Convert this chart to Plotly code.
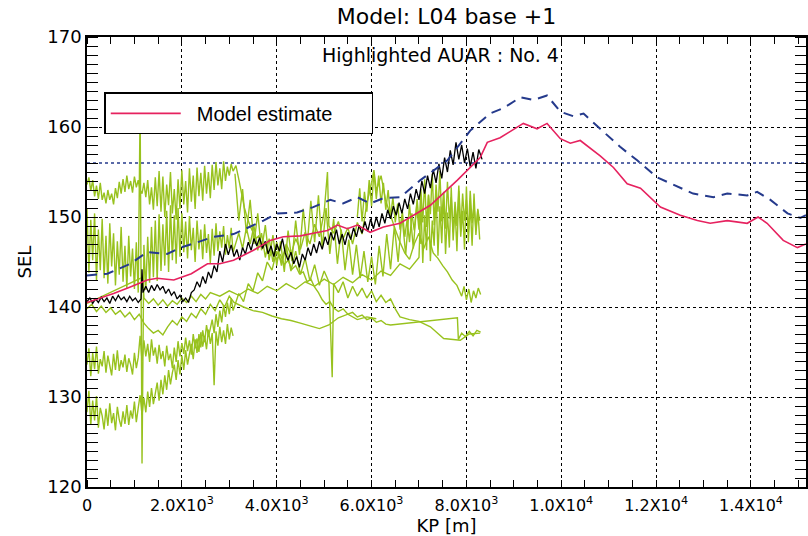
import plotly.graph_objects as go

# ---------------- data ----------------
X_TICK_VALS = [0, 2000, 4000, 6000, 8000, 10000, 12000, 14000]
X_TICK_TEXT = ["0", "2.0X10<sup>3</sup>", "4.0X10<sup>3</sup>", "6.0X10<sup>3</sup>",
               "8.0X10<sup>3</sup>", "1.0X10<sup>4</sup>", "1.2X10<sup>4</sup>", "1.4X10<sup>4</sup>"]
Y_TICK_VALS = [120, 130, 140, 150, 160, 170]
THRESHOLD = 156

RED_X = [0, 560, 900, 1270, 1480, 1830, 2200, 2390, 2540, 2800, 3090, 3510, 3860, 4140, 4500, 4770,
         5070, 5280, 5490, 5700, 5970, 6250, 6600, 7240, 7810, 8290, 8440, 8710, 9200, 9490, 9700,
         9980, 10190, 10400, 10820, 11100, 11390, 11670, 12090, 12510, 12870, 13140, 13500, 13920,
         14150, 14340, 14680, 14980, 15160]
RED_Y = [140.5, 141.5, 142.2, 143.0, 143.2, 143.0, 143.7, 144.3, 144.8, 144.8, 145.2, 146.3, 147.4,
         147.8, 147.9, 148.2, 148.5, 149.1, 148.7, 149.1, 148.3, 148.9, 149.3, 151.3, 154.1, 156.6,
         158.3, 158.8, 160.4, 159.8, 160.4, 158.7, 158.2, 158.5, 156.8, 155.5, 153.7, 153.2, 151.1,
         150.2, 149.6, 149.3, 149.6, 149.3, 150.0, 149.3, 147.4, 146.6, 147.0]

BLUE_X = [0, 430, 910, 1270, 1690, 1970, 2330, 2670, 3090, 3445, 3720, 4010, 4430, 4770, 5130, 5400,
          5700, 5970, 6250, 6606, 7030, 7600, 8080, 8500, 8780, 9140, 9410, 9700, 9980, 10250, 10470,
          10820, 11240, 11600, 12020, 12360, 12780, 13210, 13500, 13920, 14130, 14410, 14770, 15040, 15160]
BLUE_Y = [143.5, 143.7, 144.8, 146.1, 145.9, 146.6, 147.2, 147.8, 148.1, 148.9, 149.6, 150.4, 150.5,
          151.1, 151.9, 151.5, 152.2, 151.5, 152.1, 152.2, 154.1, 156.3, 159.6, 161.5, 162.1, 163.3,
          163.0, 163.5, 161.7, 161.2, 161.5, 159.8, 157.8, 156.3, 154.4, 153.6, 152.6, 152.2, 152.6,
          152.4, 152.8, 151.9, 150.4, 149.9, 150.2]

BLACK_X = [0, 60, 120, 180, 240, 300, 360, 420, 480, 540, 600, 660, 720, 780, 840, 900, 960, 1020,
           1080, 1140, 1160, 1180, 1240, 1300, 1360, 1420, 1480, 1540, 1600, 1660, 1720, 1780, 1840,
           1900, 1960, 2020, 2080, 2140, 2200, 2260, 2320, 2380, 2440, 2500, 2560, 2620, 2680, 2740,
           2800, 2860, 2920, 2980, 3040, 3100, 3160, 3220, 3280, 3340, 3400, 3460, 3520, 3580, 3640,
           3700, 3760, 3820, 3880, 3940, 4000, 4060, 4120, 4180, 4240, 4300, 4360, 4420, 4480, 4540,
           4600, 4660, 4720, 4780, 4840, 4900, 4960, 5020, 5080, 5140, 5200, 5260, 5320, 5380, 5440,
           5500, 5560, 5620, 5680, 5740, 5800, 5860, 5920, 5980, 6040, 6100, 6160, 6220, 6280, 6340,
           6400, 6460, 6520, 6580, 6640, 6700, 6760, 6820, 6880, 6940, 7000, 7060, 7120, 7180, 7240,
           7300, 7360, 7420, 7480, 7540, 7600, 7660, 7720, 7780, 7840, 7900, 7960, 8020, 8080, 8140,
           8200, 8260, 8330]
BLACK_Y = [140.6, 141.0, 140.4, 140.9, 140.5, 141.1, 140.6, 141.0, 140.4, 141.2, 140.7, 141.3, 140.8,
           141.1, 140.6, 141.2, 140.7, 141.0, 140.5, 140.9, 144.2,
           141.6, 142.3, 141.6, 142.4, 141.8, 142.5, 141.9, 142.3, 141.5, 142.0,
           141.3, 141.7, 140.9, 141.3, 140.6, 141.0, 140.5, 141.6, 141.9, 142.8,
           142.2, 143.4, 142.6, 143.9, 143.2, 144.6, 143.9, 146.2, 145.0, 147.0,
           145.8, 146.9, 145.6, 146.4, 145.2, 146.6, 145.9, 147.2, 146.3, 147.6,
           146.8, 147.7, 146.5, 147.3, 145.9, 146.8, 145.6, 147.0, 146.2, 147.6,
           146.0, 145.2, 146.1, 144.8, 145.6, 144.4, 145.9, 145.2, 146.6, 145.7,
           147.0, 146.0, 147.3, 146.4, 147.8, 146.9, 148.3, 147.4, 148.6, 147.0,
           148.1, 146.9, 148.3, 147.5, 148.8, 147.8, 149.1, 148.2, 149.5, 148.4,
           149.8, 148.7, 150.0, 148.9, 150.4, 149.3, 150.8, 149.8, 151.2, 150.2,
           151.6, 150.4, 152.0, 150.9, 152.6, 151.4, 153.1, 151.9, 154.0, 152.6,
           154.6, 153.2, 155.3, 153.8, 155.9, 154.3, 156.6, 155.0, 157.4, 155.8,
           158.3, 156.4, 158.0, 156.0, 157.6, 155.6, 157.2, 155.4, 157.5, 156.4]

# shared KP sampling grids of the measured (green) records
KP_GRID_L = [0, 40, 80, 120, 160, 200, 240, 280, 320, 360,
             400, 440, 480, 520, 560, 600, 640, 680, 720, 760,
             800, 840, 880, 920, 960, 1000, 1040, 1080, 1120, 1160,
             1200, 1240, 1280, 1320, 1360, 1400, 1440, 1480, 1520, 1560,
             1600, 1640, 1680, 1720, 1760, 1800, 1840, 1880, 1920, 1960,
             2000, 2040, 2080, 2120, 2160, 2200, 2240, 2280, 2320, 2360,
             2400, 2440, 2480, 2520, 2560, 2600, 2640, 2680, 2720, 2760,
             2800, 2840, 2880, 2920, 2960, 3000, 3040, 3080]
KP_GRID_M = [3120, 3200, 3280, 3360, 3440, 3520, 3600, 3680, 3760, 3840,
             3920, 4000, 4080, 4160, 4240, 4320, 4400, 4480, 4560, 4640,
             4720, 4800, 4880, 4960, 5040, 5120, 5200, 5280, 5360, 5440,
             5520, 5600, 5680, 5760, 5840, 5920, 6000, 6080, 6160, 6240,
             6320, 6400, 6480, 6560, 6640, 6720, 6800, 6880, 6960, 7040]
KP_GRID_R = [7000, 7040, 7080, 7120, 7160, 7200, 7240, 7280, 7320, 7360, 7400, 7440, 7480, 7520,
             7560, 7600, 7640, 7680, 7720, 7760, 7800, 7840, 7880, 7920, 7960, 8000, 8040, 8080,
             8120, 8160, 8200, 8240, 8280]

GA_L = [153.6, 154.4, 152.9, 154.1, 152.3, 153.5, 152.0, 153.8, 151.9, 152.7,
        151.5, 153.0, 151.9, 152.6, 151.4, 153.2, 152.1, 153.9, 152.6, 154.2,
        152.8, 154.6, 153.1, 154.0, 152.7, 154.5, 153.3, 154.1, 153.0, 152.6,
        153.8, 152.2, 154.1, 151.4, 153.3, 150.8, 154.4, 151.2, 155.1, 150.6,
        154.5, 150.0, 153.6, 151.3, 155.0, 150.4, 153.1, 149.7, 154.2, 150.9,
        155.2, 151.4, 154.0, 150.5, 155.4, 151.7, 154.6, 150.9, 155.5, 152.3,
        154.9, 151.8, 155.7, 152.6, 155.0, 152.1, 155.8, 153.0, 156.1, 153.5,
        155.4, 153.1, 156.2, 154.0, 155.6, 154.6, 155.9, 155.1]
GA_TAIL_X = [3140, 3200, 3260, 3320, 3380, 3440, 3500, 3560, 3620, 3700, 3760, 3840, 3920, 4000,
             4080, 4160, 4240, 4320, 4400, 4480, 4560, 4640, 4720, 4800, 4880, 4960, 5040, 5120,
             5200, 5300, 5400, 5500, 5600, 5700, 5800, 5900, 6000, 6100, 6200, 6300, 6400, 7810,
             7830, 7900, 7980, 8060, 8140, 8220, 8300]
GA_TAIL_Y = [155.7, 154.2, 152.6, 151.0, 149.9, 149.0, 148.3, 147.6, 147.9, 146.6, 147.1, 145.6,
             146.1, 145.3, 145.8, 144.7, 145.2, 144.2, 144.6, 143.7, 143.9, 142.8, 143.1, 142.2,
             141.6, 140.8, 140.3, 140.6, 139.9, 139.5, 139.8, 139.2, 139.4, 138.9, 139.1, 138.6,
             138.8, 138.3, 138.5, 138.1, 138.0, 138.8, 136.4, 137.1, 136.7, 137.3, 136.8, 137.4,
             137.2]

GB_L = [150.9, 143.8, 149.7, 145.2, 150.4, 142.9, 148.6, 144.1, 149.8, 143.2,
        147.9, 142.6, 149.3, 144.5, 148.2, 142.4, 147.3, 143.6, 148.9, 142.8,
        146.8, 142.1, 147.9, 143.4, 146.5, 142.0, 147.2, 141.6, 162.4, 122.6,
        146.9, 141.9, 147.8, 142.7, 148.9, 143.3, 149.6, 142.9, 150.3, 144.0,
        149.2, 144.6, 150.7, 143.9, 151.3, 145.2, 150.2, 144.8, 151.0, 145.6,
        150.4, 146.1, 149.5, 145.4, 150.1, 146.3, 148.8, 145.0, 149.6, 146.4,
        148.6, 145.3, 149.2, 146.0, 148.1, 144.9, 148.7, 145.7, 149.3, 146.2,
        148.4, 146.6, 149.0, 145.8, 148.0, 146.5, 148.8, 146.1]
GB_TAIL_X = [3200, 3280, 3360, 3440, 3520, 3600, 3680, 3760, 3840, 3920, 4000, 4100, 4200, 4300,
             4400, 4500, 4600, 4700, 4800, 4900, 5000, 5100, 5170, 5200, 5300, 5400, 5500, 5600,
             5700, 5800, 5900, 6000, 6100, 6200, 6300, 6400, 6500, 6600, 6800, 7000, 7240, 7520,
             7870, 8060, 8290]
GB_TAIL_Y = [148.2, 146.5, 148.8, 147.0, 149.0, 146.3, 148.2, 145.5, 147.6, 145.0, 147.2, 144.6,
             146.8, 144.0, 146.2, 143.6, 145.4, 142.9, 144.7, 142.4, 144.0, 142.8, 132.2, 142.6,
             141.6, 142.8, 141.0, 142.3, 141.2, 142.1, 141.0, 141.8, 140.6, 141.3, 140.5, 140.9,
             139.8, 138.9, 138.6, 138.4, 137.8, 136.5, 136.3, 137.0, 137.1]

GD_L = [133.6, 135.4, 132.3, 134.9, 133.1, 135.6, 132.6, 134.2, 133.4, 135.1,
        132.7, 134.6, 133.5, 132.4, 134.8, 133.0, 135.2, 132.9, 134.1, 133.3,
        134.7, 132.8, 134.3, 133.6, 132.5, 134.9, 133.2, 134.4, 136.8, 134.0,
        136.3, 134.5, 135.9, 133.9, 136.4, 134.6, 135.5, 133.7, 135.8, 134.2,
        135.1, 133.4, 135.7, 134.1, 134.8, 133.2, 135.5, 133.9, 136.2, 134.5,
        136.0, 134.8, 136.6, 135.1, 136.3, 134.7, 137.0, 135.4, 136.5, 135.0,
        137.2, 135.6, 136.8, 135.3, 137.5, 135.9, 137.1, 131.3, 137.3, 135.7,
        137.8, 136.1, 137.4, 135.9, 138.1, 136.4, 137.7, 136.8]

GE_L = [128.3, 130.7, 126.9, 129.6, 127.4, 130.1, 126.6, 128.8, 127.9, 126.4,
        128.7, 126.8, 129.3, 127.1, 128.2, 126.3, 128.9, 127.5, 126.7, 128.4,
        127.0, 129.1, 126.9, 128.5, 127.6, 129.5, 127.2, 128.8, 130.2, 128.0,
        129.9, 128.3, 130.6, 128.9, 131.0, 129.2, 130.4, 131.6, 129.6, 131.9,
        130.3, 132.4, 130.8, 133.0, 131.4, 132.7, 133.6, 131.9, 134.1, 132.5,
        134.6, 133.0, 135.2, 133.6, 134.8, 135.9, 134.2, 136.4, 134.9, 137.0,
        135.5, 137.4, 136.1, 138.0, 136.7, 137.6, 138.6, 137.1, 139.2, 137.8,
        139.6, 138.3, 140.2, 138.9, 140.5, 139.2, 141.0, 139.6]
GE_TAIL_X = [3200, 3300, 3400, 3500, 3600, 3700, 3800, 3900, 4000, 4100, 4200, 4300, 4400, 4500,
             4600, 4700, 4800, 4900, 5000, 5070, 5100, 5200, 5300, 5400, 5500, 5600, 5700, 5800,
             5900, 6000, 6050, 6100, 6200, 6300, 6400, 6500, 6600, 6700, 6800, 6900, 7000, 7100,
             7200, 7300, 7400, 7500, 7600, 7700, 7800, 7900, 7950, 8000, 8050, 8100, 8150, 8200,
             8250, 8300]
GE_TAIL_Y = [141.5, 140.6, 142.6, 141.8, 143.8, 142.9, 145.0, 144.1, 146.2, 145.0, 147.0, 145.8,
             147.6, 146.4, 148.3, 147.0, 149.2, 147.8, 150.5, 155.0, 149.0, 148.2, 149.5, 147.6,
             148.8, 147.0, 149.4, 148.1, 151.5, 153.8, 155.2, 152.9, 154.6, 151.8, 150.2, 148.6,
             147.2, 146.0, 145.3, 147.0, 148.2, 146.5, 147.8, 146.0, 145.4, 144.6, 143.9, 143.0,
             142.4, 141.2, 142.3, 140.8, 142.0, 140.5, 141.8, 141.0, 142.1, 141.4]

GC_HEAD_X = [0, 1170, 1200, 1300, 1400, 1500, 1600, 1700, 1800, 1900, 2000, 2100, 2200, 2300, 2400,
             2500, 2600, 2800, 3000, 3200, 3400, 3600, 3800, 4000, 4200, 4400, 4600, 4800, 5000,
             5200, 5400, 5600, 5800, 6000, 6200, 6400, 6600, 6800]
GC_HEAD_Y = [140.4, 143.3, 141.0, 140.4, 140.9, 140.2, 140.8, 140.1, 140.7, 140.3, 141.0, 140.5,
             141.2, 140.6, 141.4, 140.9, 141.6, 141.2, 141.8, 141.3, 142.0, 141.5, 142.3, 141.8,
             142.6, 142.0, 142.8, 142.3, 143.1, 142.5, 143.3, 142.7, 143.6, 143.0, 144.0, 143.5,
             144.8, 144.2]
GC_R = [145.5, 151.6, 144.9, 150.2, 146.3, 152.4, 145.1, 149.6, 146.8, 153.0, 145.7, 151.2, 147.1,
        152.7, 145.9, 150.5, 146.6, 153.3, 147.4, 151.0, 146.2, 152.9, 147.8, 150.7, 146.4, 153.4,
        147.2, 151.5, 146.8, 152.6, 148.0, 150.9, 147.5]

GF_HEAD_X = [5700, 5750, 5800, 5850, 5900, 5950, 6000, 6050, 6100, 6150, 6200, 6250, 6300, 6350,
             6400, 6450, 6500, 6550, 6600, 6650, 6700, 6750, 6800, 6850, 6900, 6950]
GF_HEAD_Y = [150.0, 153.2, 149.5, 152.8, 150.6, 154.1, 151.2, 155.0, 152.0, 154.6, 151.5, 153.8,
             150.8, 153.0, 150.0, 152.2, 149.4, 151.5, 148.6, 150.6, 147.8, 149.7, 147.2, 150.4,
             148.5, 151.2]
GF_R = [148.6, 153.1, 149.4, 154.2, 148.9, 152.5, 150.3, 154.8, 149.1, 153.6, 150.6, 155.1, 149.5,
        152.8, 148.7, 153.9, 149.8, 152.2, 148.3, 151.7, 149.0, 153.5, 148.4, 152.6, 149.6, 151.9,
        148.2, 152.9, 149.3, 151.3, 148.5, 150.8, 149.6]

GG_M = [154.8, 149.6, 153.1, 148.2, 151.9, 147.0, 150.4, 146.3, 149.1, 145.2,
        148.0, 144.6, 147.3, 143.9, 148.5, 145.1, 149.6, 145.8, 150.9, 146.7,
        151.8, 147.2, 152.4, 146.5, 151.0, 145.9, 149.8, 144.8, 148.6, 144.1,
        147.5, 143.6, 146.9, 143.2, 146.2, 142.8, 145.6, 142.5, 146.8, 143.4,
        148.1, 144.2, 149.0, 145.0, 150.2, 145.8, 151.4, 146.5, 152.0, 147.0]

GI_X = [0, 100, 200, 300, 400, 500, 600, 700, 800, 900, 1000, 1100, 1200, 1300, 1400, 1500, 1600,
        1700, 1800, 1900, 2000, 2100, 2200, 2300, 2400, 2500, 2600, 2700, 2800, 2900, 3000, 3100, 3300,
        3500, 3700, 3900, 4100, 4300, 4500, 4700, 4900, 5100, 5300, 5500, 5700, 5900, 6100]
GI_Y = [139.8, 140.3, 139.5, 140.1, 139.4, 139.9, 139.2, 139.6, 138.9, 139.4,
        138.6, 139.2, 138.2, 137.6, 137.1, 137.4, 136.9, 137.8, 138.5, 138.0,
        138.9, 138.4, 139.3, 138.8, 139.8, 139.2, 140.3, 139.6, 140.8, 140.0,
        141.2,
        140.5, 140.0, 139.6, 139.4, 139.0, 138.7, 138.5, 138.2, 137.9, 137.6, 138.0, 138.8, 139.2,
        138.6, 138.9, 138.7]

GREEN_SERIES = [
    (KP_GRID_L + GA_TAIL_X, GA_L + GA_TAIL_Y),
    (KP_GRID_L + GB_TAIL_X, GB_L + GB_TAIL_Y),
    (GC_HEAD_X + KP_GRID_R, GC_HEAD_Y + GC_R),
    (KP_GRID_L, GD_L),
    (KP_GRID_L + GE_TAIL_X, GE_L + GE_TAIL_Y),
    (GF_HEAD_X + KP_GRID_R, GF_HEAD_Y + GF_R),
    (KP_GRID_M, GG_M),
    (GI_X, GI_Y),
]

GREEN = "#98c21e"
RED = "#e6225f"
BLUE = "#253a8c"

fig = go.Figure()
for gx, gy in GREEN_SERIES:
    fig.add_trace(go.Scatter(x=gx, y=gy, mode="lines",
                             line=dict(color=GREEN, width=1.4, simplify=False),
                             showlegend=False, hoverinfo="skip"))
fig.add_trace(go.Scatter(x=BLACK_X, y=BLACK_Y, mode="lines",
                         line=dict(color="black", width=1.3, simplify=False), showlegend=False))
fig.add_trace(go.Scatter(x=BLUE_X, y=BLUE_Y, mode="lines",
                         line=dict(color=BLUE, width=2, dash="10px,7px"), showlegend=False))
fig.add_trace(go.Scatter(x=RED_X, y=RED_Y, mode="lines", line=dict(color=RED, width=1.6),
                         name="\u00a0\u00a0Model estimate" + "\u00a0" * 6, showlegend=True))

fig.add_shape(type="line", xref="x domain", yref="y", x0=0, x1=1, y0=THRESHOLD, y1=THRESHOLD,
              line=dict(color=BLUE, width=1.5, dash="dot"), layer="below")

axis_font = dict(family="DejaVu Sans, Liberation Sans, Arial", color="black")

fig.update_xaxes(range=[0, 15160], tickvals=X_TICK_VALS, ticktext=X_TICK_TEXT, ticks="",
                 showline=True, linecolor="black", linewidth=1.5, mirror="ticks",
                 showgrid=True, gridcolor="black", gridwidth=1, griddash="dot", automargin=False,
                 zeroline=False, tickfont=dict(size=16, **axis_font), ticklabelstandoff=3,
                 minor=dict(dtick=500, ticks="inside", ticklen=7, tickcolor="black", tickwidth=1.2,
                            showgrid=False),
                 title=dict(text="KP [m]", font=dict(size=18, **axis_font), standoff=0))
fig.update_yaxes(range=[120, 170], tickvals=Y_TICK_VALS, ticks="",
                 showline=True, linecolor="black", linewidth=1.5, mirror="ticks",
                 showgrid=True, gridcolor="black", gridwidth=1, griddash="dot", automargin=False,
                 zeroline=False, tickfont=dict(size=18, **axis_font), ticklabelstandoff=0,
                 minor=dict(dtick=1, ticks="inside", ticklen=11, tickcolor="black", tickwidth=1.2,
                            showgrid=False),
                 title=dict(text="SEL", font=dict(size=18, **axis_font), standoff=11))

fig.add_annotation(text="Highlighted AUAR : No. 4", xref="paper", yref="paper", x=0.491, y=0.96,
                   showarrow=False, xanchor="center", yanchor="middle",
                   font=dict(size=19, **axis_font))

fig.update_layout(
    width=808, height=536,
    margin=dict(l=87, r=2, t=37, b=49, autoexpand=False),
    plot_bgcolor="white", paper_bgcolor="white",
    title=dict(text="Model: L04 base +1", x=0.5, xref="paper", xanchor="center",
               y=1 - 16 / 536, yref="container", yanchor="middle",
               font=dict(size=22, **axis_font)),
    showlegend=True,
    legend=dict(x=0.024, y=0.877, xanchor="left", yanchor="top", bgcolor="white",
                bordercolor="black", borderwidth=1.5, itemwidth=70,
                font=dict(family="Liberation Sans, Arial", size=20, color="black")),
)

fig.write_html("out.html", config={"displayModeBar": False},
               post_script="document.body.style.margin='0px';")
